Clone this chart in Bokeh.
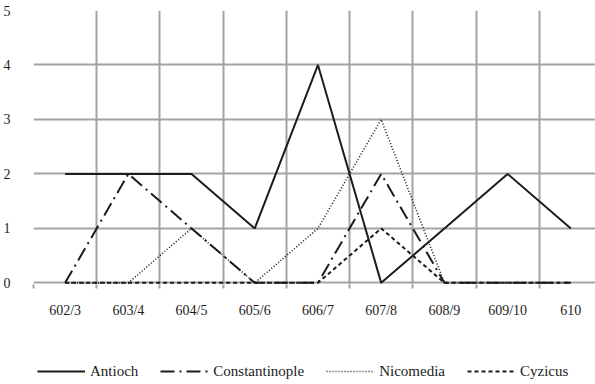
from bokeh.plotting import figure
from bokeh.layouts import column
from bokeh.models import FixedTicker, Range1d, Legend, LegendItem
from bokeh.embed import file_html
from bokeh.resources import INLINE

categories = ["602/3", "603/4", "604/5", "605/6", "606/7", "607/8", "608/9", "609/10", "610"]
antioch = [2, 2, 2, 1, 4, 0, 1, 2, 1]
constantinople = [0, 2, 1, 0, 0, 2, 0, 0, 0]
nicomedia = [0, 0, 1, 0, 1, 3, 0, 0, 0]
cyzicus = [0, 0, 0, 0, 0, 1, 0, 0, 0]
y_ticks = [0, 1, 2, 3, 4, 5]

xs = list(range(len(categories)))
bounds = [i - 0.5 for i in range(len(categories) + 1)]

FONT = "Liberation Serif"
GRID = "#a3a3a3"
INK = "#1c1c1c"

p = figure(width=595, height=322, output_backend="svg", toolbar_location=None,
           x_range=Range1d(-0.5, 8.39), y_range=Range1d(-0.03, 5.0),
           min_border_left=32, min_border_right=0, min_border_top=10,
           min_border_bottom=38)
p.outline_line_color = None
p.background_fill_color = "white"
p.border_fill_color = "white"

# x axis: labels at category centres, tick marks at boundaries (minor)
p.xaxis.ticker = FixedTicker(ticks=xs, minor_ticks=bounds)
p.xaxis.major_label_overrides = {i: c for i, c in enumerate(categories)}
p.xaxis.axis_line_color = None
p.xaxis.major_tick_line_color = None
p.xaxis.minor_tick_line_color = GRID
p.xaxis.minor_tick_line_width = 2
p.xaxis.minor_tick_out = 4
p.xaxis.minor_tick_in = 0
p.xaxis.major_tick_out = 4
p.xaxis.major_label_standoff = 14
p.xaxis.major_label_text_font = FONT
p.xaxis.major_label_text_font_size = "14px"
p.xaxis.major_label_text_color = INK

p.yaxis.ticker = FixedTicker(ticks=y_ticks)
p.yaxis.axis_line_color = None
p.yaxis.major_tick_line_color = None
p.yaxis.minor_tick_line_color = None
p.yaxis.major_label_standoff = 17
p.yaxis.major_label_text_font = FONT
p.yaxis.major_label_text_font_size = "14px"
p.yaxis.major_label_text_color = INK

p.xgrid.ticker = FixedTicker(ticks=bounds)
p.xgrid.grid_line_color = GRID
p.xgrid.grid_line_width = 2
p.ygrid.ticker = FixedTicker(ticks=y_ticks)
p.ygrid.grid_line_color = GRID
p.ygrid.grid_line_width = 2

series = [
    ("Antioch", antioch, "solid", 2),
    ("Constantinople", constantinople, "14 5 2 5", 2),
    ("Nicomedia", nicomedia, "1 2", 1.6),
    ("Cyzicus", cyzicus, "4 3", 2),
]

# legend strip below the chart (its lines lie outside its visible range)
lg = figure(width=595, height=62, output_backend="svg", toolbar_location=None,
            min_border=0, min_border_left=0, min_border_right=0,
            min_border_top=0, min_border_bottom=0,
            x_range=Range1d(-100, -99), y_range=Range1d(-100, -99))
lg.outline_line_color = None
lg.axis.visible = False
lg.grid.visible = False

items = []
for name, vals, dash, w in series:
    p.line(xs, vals, line_color=INK, line_width=w, line_dash=dash)
    r = lg.line(xs, vals, line_color=INK, line_width=w, line_dash=dash)
    items.append(LegendItem(label=name, renderers=[r]))

legend = Legend(items=items, orientation="horizontal", location=(4, 3),
                glyph_width=48, glyph_height=20, label_standoff=5, spacing=22,
                padding=0, margin=0, border_line_color=None,
                background_fill_alpha=0, label_text_font=FONT,
                label_text_font_size="15px", label_text_color=INK)
lg.add_layout(legend)

layout = column(p, lg, spacing=0)
open("out.html", "w").write(file_html(layout, INLINE))
